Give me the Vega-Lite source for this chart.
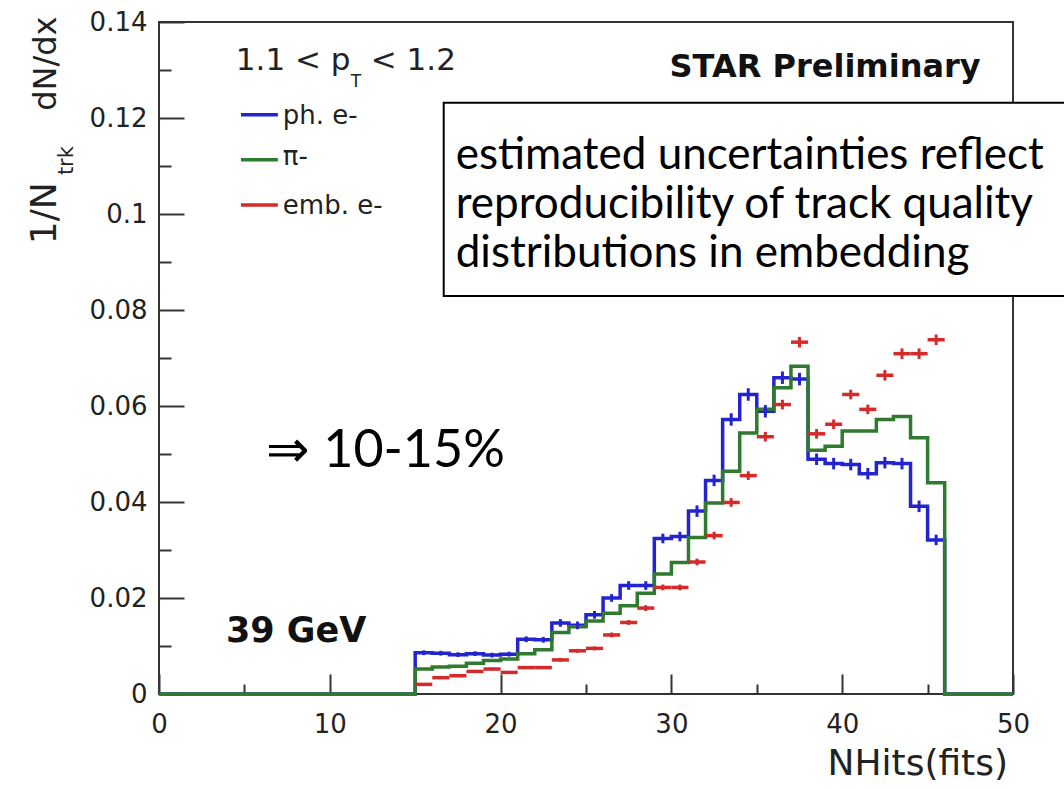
{
  "$schema": "https://vega.github.io/schema/vega-lite/v6.json",
  "width": 854,
  "height": 672,
  "autosize": {"type": "none"},
  "padding": {"left": 159, "top": 22, "right": 51, "bottom": 95},
  "background": "white",
  "config": {"view": {"stroke": "#333333", "strokeWidth": 2}},
  "datasets": {
    "hist": [
      {"s": "ph. e-", "lo": 0, "v": 0},
      {"s": "ph. e-", "lo": 15, "hi": 16, "mid": 15.5, "v": 0.0086, "e": 0.0005},
      {"s": "ph. e-", "lo": 16, "hi": 17, "mid": 16.5, "v": 0.0085, "e": 0.0005},
      {"s": "ph. e-", "lo": 17, "hi": 18, "mid": 17.5, "v": 0.0082, "e": 0.0005},
      {"s": "ph. e-", "lo": 18, "hi": 19, "mid": 18.5, "v": 0.0084, "e": 0.0005},
      {"s": "ph. e-", "lo": 19, "hi": 20, "mid": 19.5, "v": 0.0081, "e": 0.0005},
      {"s": "ph. e-", "lo": 20, "hi": 21, "mid": 20.5, "v": 0.0083, "e": 0.0005},
      {"s": "ph. e-", "lo": 21, "hi": 22, "mid": 21.5, "v": 0.0114, "e": 0.0006},
      {"s": "ph. e-", "lo": 22, "hi": 23, "mid": 22.5, "v": 0.0113, "e": 0.0006},
      {"s": "ph. e-", "lo": 23, "hi": 24, "mid": 23.5, "v": 0.0148, "e": 0.0008},
      {"s": "ph. e-", "lo": 24, "hi": 25, "mid": 24.5, "v": 0.0143, "e": 0.0008},
      {"s": "ph. e-", "lo": 25, "hi": 26, "mid": 25.5, "v": 0.0165, "e": 0.0008},
      {"s": "ph. e-", "lo": 26, "hi": 27, "mid": 26.5, "v": 0.0200, "e": 0.0008},
      {"s": "ph. e-", "lo": 27, "hi": 28, "mid": 27.5, "v": 0.0226, "e": 0.0009},
      {"s": "ph. e-", "lo": 28, "hi": 29, "mid": 28.5, "v": 0.0226, "e": 0.0009},
      {"s": "ph. e-", "lo": 29, "hi": 30, "mid": 29.5, "v": 0.0324, "e": 0.0010},
      {"s": "ph. e-", "lo": 30, "hi": 31, "mid": 30.5, "v": 0.0328, "e": 0.0010},
      {"s": "ph. e-", "lo": 31, "hi": 32, "mid": 31.5, "v": 0.0381, "e": 0.0012},
      {"s": "ph. e-", "lo": 32, "hi": 33, "mid": 32.5, "v": 0.0445, "e": 0.0012},
      {"s": "ph. e-", "lo": 33, "hi": 34, "mid": 33.5, "v": 0.0572, "e": 0.0013},
      {"s": "ph. e-", "lo": 34, "hi": 35, "mid": 34.5, "v": 0.0624, "e": 0.0013},
      {"s": "ph. e-", "lo": 35, "hi": 36, "mid": 35.5, "v": 0.0589, "e": 0.0013},
      {"s": "ph. e-", "lo": 36, "hi": 37, "mid": 36.5, "v": 0.0659, "e": 0.0013},
      {"s": "ph. e-", "lo": 37, "hi": 38, "mid": 37.5, "v": 0.0656, "e": 0.0013},
      {"s": "ph. e-", "lo": 38, "hi": 39, "mid": 38.5, "v": 0.0489, "e": 0.0012},
      {"s": "ph. e-", "lo": 39, "hi": 40, "mid": 39.5, "v": 0.0480, "e": 0.0012},
      {"s": "ph. e-", "lo": 40, "hi": 41, "mid": 40.5, "v": 0.0478, "e": 0.0012},
      {"s": "ph. e-", "lo": 41, "hi": 42, "mid": 41.5, "v": 0.0459, "e": 0.0012},
      {"s": "ph. e-", "lo": 42, "hi": 43, "mid": 42.5, "v": 0.0482, "e": 0.0012},
      {"s": "ph. e-", "lo": 43, "hi": 44, "mid": 43.5, "v": 0.0480, "e": 0.0012},
      {"s": "ph. e-", "lo": 44, "hi": 45, "mid": 44.5, "v": 0.0391, "e": 0.0012},
      {"s": "ph. e-", "lo": 45, "hi": 46, "mid": 45.5, "v": 0.0321, "e": 0.0011},
      {"s": "ph. e-", "lo": 46, "v": 0},
      {"s": "ph. e-", "lo": 50, "v": 0},
      {"s": "π-", "lo": 0, "v": 0},
      {"s": "π-", "lo": 15, "v": 0.0052},
      {"s": "π-", "lo": 16, "v": 0.0056},
      {"s": "π-", "lo": 17, "v": 0.0058},
      {"s": "π-", "lo": 18, "v": 0.0064},
      {"s": "π-", "lo": 19, "v": 0.0070},
      {"s": "π-", "lo": 20, "v": 0.0073},
      {"s": "π-", "lo": 21, "v": 0.0084},
      {"s": "π-", "lo": 22, "v": 0.0092},
      {"s": "π-", "lo": 23, "v": 0.0128},
      {"s": "π-", "lo": 24, "v": 0.0140},
      {"s": "π-", "lo": 25, "v": 0.0152},
      {"s": "π-", "lo": 26, "v": 0.0168},
      {"s": "π-", "lo": 27, "v": 0.0184},
      {"s": "π-", "lo": 28, "v": 0.0210},
      {"s": "π-", "lo": 29, "v": 0.0250},
      {"s": "π-", "lo": 30, "v": 0.0274},
      {"s": "π-", "lo": 31, "v": 0.0326},
      {"s": "π-", "lo": 32, "v": 0.0398},
      {"s": "π-", "lo": 33, "v": 0.0464},
      {"s": "π-", "lo": 34, "v": 0.0544},
      {"s": "π-", "lo": 35, "v": 0.0593},
      {"s": "π-", "lo": 36, "v": 0.0638},
      {"s": "π-", "lo": 37, "v": 0.0683},
      {"s": "π-", "lo": 38, "v": 0.0508},
      {"s": "π-", "lo": 39, "v": 0.0516},
      {"s": "π-", "lo": 40, "v": 0.0548},
      {"s": "π-", "lo": 41, "v": 0.0548},
      {"s": "π-", "lo": 42, "v": 0.0572},
      {"s": "π-", "lo": 43, "v": 0.0578},
      {"s": "π-", "lo": 44, "v": 0.0534},
      {"s": "π-", "lo": 45, "v": 0.0440},
      {"s": "π-", "lo": 46, "v": 0},
      {"s": "π-", "lo": 50, "v": 0},
      {"s": "emb. e-", "lo": 15, "hi": 16, "mid": 15.5, "v": 0.0020, "e": 0.0003},
      {"s": "emb. e-", "lo": 16, "hi": 17, "mid": 16.5, "v": 0.0034, "e": 0.0003},
      {"s": "emb. e-", "lo": 17, "hi": 18, "mid": 17.5, "v": 0.0038, "e": 0.0003},
      {"s": "emb. e-", "lo": 18, "hi": 19, "mid": 18.5, "v": 0.0047, "e": 0.0003},
      {"s": "emb. e-", "lo": 19, "hi": 20, "mid": 19.5, "v": 0.0052, "e": 0.0003},
      {"s": "emb. e-", "lo": 20, "hi": 21, "mid": 20.5, "v": 0.0045, "e": 0.0003},
      {"s": "emb. e-", "lo": 21, "hi": 22, "mid": 21.5, "v": 0.0055, "e": 0.0003},
      {"s": "emb. e-", "lo": 22, "hi": 23, "mid": 22.5, "v": 0.0055, "e": 0.0003},
      {"s": "emb. e-", "lo": 23, "hi": 24, "mid": 23.5, "v": 0.0071, "e": 0.0004},
      {"s": "emb. e-", "lo": 24, "hi": 25, "mid": 24.5, "v": 0.0090, "e": 0.0004},
      {"s": "emb. e-", "lo": 25, "hi": 26, "mid": 25.5, "v": 0.0095, "e": 0.0004},
      {"s": "emb. e-", "lo": 26, "hi": 27, "mid": 26.5, "v": 0.0123, "e": 0.0005},
      {"s": "emb. e-", "lo": 27, "hi": 28, "mid": 27.5, "v": 0.0149, "e": 0.0005},
      {"s": "emb. e-", "lo": 28, "hi": 29, "mid": 28.5, "v": 0.0179, "e": 0.0006},
      {"s": "emb. e-", "lo": 29, "hi": 30, "mid": 29.5, "v": 0.0222, "e": 0.0006},
      {"s": "emb. e-", "lo": 30, "hi": 31, "mid": 30.5, "v": 0.0222, "e": 0.0006},
      {"s": "emb. e-", "lo": 31, "hi": 32, "mid": 31.5, "v": 0.0275, "e": 0.0007},
      {"s": "emb. e-", "lo": 32, "hi": 33, "mid": 32.5, "v": 0.0330, "e": 0.0008},
      {"s": "emb. e-", "lo": 33, "hi": 34, "mid": 33.5, "v": 0.0399, "e": 0.0009},
      {"s": "emb. e-", "lo": 34, "hi": 35, "mid": 34.5, "v": 0.0455, "e": 0.0009},
      {"s": "emb. e-", "lo": 35, "hi": 36, "mid": 35.5, "v": 0.0536, "e": 0.0010},
      {"s": "emb. e-", "lo": 36, "hi": 37, "mid": 36.5, "v": 0.0603, "e": 0.0010},
      {"s": "emb. e-", "lo": 37, "hi": 38, "mid": 37.5, "v": 0.0733, "e": 0.0011},
      {"s": "emb. e-", "lo": 38, "hi": 39, "mid": 38.5, "v": 0.0542, "e": 0.0010},
      {"s": "emb. e-", "lo": 39, "hi": 40, "mid": 39.5, "v": 0.0562, "e": 0.0010},
      {"s": "emb. e-", "lo": 40, "hi": 41, "mid": 40.5, "v": 0.0624, "e": 0.0010},
      {"s": "emb. e-", "lo": 41, "hi": 42, "mid": 41.5, "v": 0.0593, "e": 0.0010},
      {"s": "emb. e-", "lo": 42, "hi": 43, "mid": 42.5, "v": 0.0664, "e": 0.0011},
      {"s": "emb. e-", "lo": 43, "hi": 44, "mid": 43.5, "v": 0.0709, "e": 0.0011},
      {"s": "emb. e-", "lo": 44, "hi": 45, "mid": 44.5, "v": 0.0709, "e": 0.0011},
      {"s": "emb. e-", "lo": 45, "hi": 46, "mid": 45.5, "v": 0.0738, "e": 0.0011}
    ]
  },
  "resolve": {"axis": {"x": "independent", "y": "independent"}},
  "layer": [
    {
      "data": {"name": "hist"},
      "transform": [{"filter": "datum.s === 'ph. e-'"}],
      "mark": {"type": "line", "interpolate": "step-after", "stroke": "#2323cf", "strokeWidth": 3.5, "clip": false},
      "encoding": {
        "x": {"field": "lo", "type": "quantitative", "scale": {"domain": [0, 50], "nice": false, "zero": false},
          "axis": {"orient": "bottom", "values": [0, 10, 20, 30, 40, 50], "format": "d", "tickSize": -20, "tickWidth": 2, "tickColor": "#333333", "domain": false, "grid": false, "labelPadding": 37, "labelFont": "DejaVu Sans", "labelFontSize": 26, "labelColor": "#222222", "labelFlush": false, "labelOverlap": false, "title": null}},
        "y": {"field": "v", "type": "quantitative", "scale": {"domain": [0, 0.14], "nice": false, "zero": false},
          "axis": {"orient": "left", "values": [0, 0.02, 0.04, 0.06, 0.08, 0.1, 0.12, 0.14], "format": "~g", "tickSize": -25, "tickWidth": 2, "tickColor": "#333333", "domain": false, "grid": false, "labelPadding": 37, "labelFont": "DejaVu Sans", "labelFontSize": 26, "labelColor": "#222222", "labelFlush": false, "labelOverlap": false, "title": null}}
      }
    },
    {
      "data": {"name": "hist"},
      "transform": [{"filter": "datum.s === 'π-'"}],
      "mark": {"type": "line", "interpolate": "step-after", "stroke": "#2f7a2f", "strokeWidth": 3.5, "clip": false},
      "encoding": {
        "x": {"field": "lo", "type": "quantitative", "scale": {"domain": [0, 50], "nice": false, "zero": false},
          "axis": {"orient": "bottom", "values": [5, 15, 25, 35, 45], "tickSize": -10, "tickWidth": 2, "tickColor": "#333333", "domain": false, "grid": false, "labels": false, "title": null}},
        "y": {"field": "v", "type": "quantitative", "scale": {"domain": [0, 0.14], "nice": false, "zero": false},
          "axis": {"orient": "left", "values": [0.01, 0.03, 0.05, 0.07, 0.09, 0.11, 0.13], "tickSize": -12, "tickWidth": 2, "tickColor": "#333333", "domain": false, "grid": false, "labels": false, "title": null}}
      }
    },
    {
      "data": {"name": "hist"},
      "transform": [{"filter": "datum.s === 'ph. e-' && datum.e > 0"}],
      "mark": {"type": "errorbar", "ticks": false, "color": "#2323cf", "rule": {"strokeWidth": 3}, "clip": false},
      "encoding": {
        "x": {"field": "mid", "type": "quantitative", "axis": null},
        "y": {"field": "v", "type": "quantitative", "axis": null},
        "yError": {"field": "e"}
      }
    },
    {
      "data": {"name": "hist"},
      "transform": [{"filter": "datum.s === 'emb. e-'"}],
      "mark": {"type": "rule", "color": "#d42a2a", "strokeWidth": 3.5, "clip": false},
      "encoding": {
        "x": {"field": "lo", "type": "quantitative", "axis": null},
        "x2": {"field": "hi"},
        "y": {"field": "v", "type": "quantitative", "axis": null}
      }
    },
    {
      "data": {"name": "hist"},
      "transform": [{"filter": "datum.s === 'emb. e-'"}],
      "mark": {"type": "errorbar", "ticks": false, "color": "#d42a2a", "rule": {"strokeWidth": 3}, "clip": false},
      "encoding": {
        "x": {"field": "mid", "type": "quantitative", "axis": null},
        "y": {"field": "v", "type": "quantitative", "axis": null},
        "yError": {"field": "e"}
      }
    },
    {
      "data": {"values": [{}]},
      "mark": {"type": "rect", "fill": "white", "stroke": "black", "strokeWidth": 2, "clip": false},
      "encoding": {
        "x": {"datum": 16.67, "type": "quantitative", "axis": null},
        "x2": {"datum": 53.3},
        "y": {"datum": 0.1232, "type": "quantitative", "axis": null},
        "y2": {"datum": 0.0829}
      }
    },
    {
      "data": {"values": [{}]},
      "mark": {"type": "text", "text": ["estimated uncertainties reflect", "reproducibility of track quality", "distributions in embedding"], "lineHeight": 49, "font": "Lato", "fontSize": 44, "align": "left", "baseline": "alphabetic", "color": "black", "clip": false},
      "encoding": {
        "x": {"datum": 17.37, "type": "quantitative", "axis": null},
        "y": {"datum": 0.1094, "type": "quantitative", "axis": null}
      }
    },
    {
      "data": {"values": [{}]},
      "mark": {"type": "text", "text": "STAR Preliminary", "font": "DejaVu Sans", "fontWeight": "bold", "fontSize": 32, "align": "center", "baseline": "alphabetic", "color": "#111111", "clip": false},
      "encoding": {
        "x": {"datum": 39.0, "type": "quantitative", "axis": null},
        "y": {"datum": 0.1286, "type": "quantitative", "axis": null}
      }
    },
    {
      "data": {"values": [{}]},
      "mark": {"type": "text", "text": "1.1 < p", "font": "DejaVu Sans", "fontSize": 31, "align": "left", "baseline": "alphabetic", "color": "#222222", "clip": false},
      "encoding": {
        "x": {"datum": 4.5, "type": "quantitative", "axis": null},
        "y": {"datum": 0.1299, "type": "quantitative", "axis": null}
      }
    },
    {
      "data": {"values": [{}]},
      "mark": {"type": "text", "text": "T", "font": "DejaVu Sans", "fontSize": 17, "align": "left", "baseline": "alphabetic", "color": "#222222", "clip": false},
      "encoding": {
        "x": {"datum": 11.23, "type": "quantitative", "axis": null},
        "y": {"datum": 0.1265, "type": "quantitative", "axis": null}
      }
    },
    {
      "data": {"values": [{}]},
      "mark": {"type": "text", "text": "< 1.2", "font": "DejaVu Sans", "fontSize": 31, "align": "left", "baseline": "alphabetic", "color": "#222222", "clip": false},
      "encoding": {
        "x": {"datum": 12.4, "type": "quantitative", "axis": null},
        "y": {"datum": 0.1299, "type": "quantitative", "axis": null}
      }
    },
    {
      "data": {"values": [{}]},
      "mark": {"type": "rule", "color": "#2323cf", "strokeWidth": 3.5, "clip": false},
      "encoding": {
        "x": {"datum": 4.8, "type": "quantitative", "axis": null},
        "x2": {"datum": 6.96},
        "y": {"datum": 0.1207, "type": "quantitative", "axis": null}
      }
    },
    {
      "data": {"values": [{}]},
      "mark": {"type": "rule", "color": "#2f7a2f", "strokeWidth": 3.5, "clip": false},
      "encoding": {
        "x": {"datum": 4.8, "type": "quantitative", "axis": null},
        "x2": {"datum": 6.96},
        "y": {"datum": 0.1113, "type": "quantitative", "axis": null}
      }
    },
    {
      "data": {"values": [{}]},
      "mark": {"type": "rule", "color": "#d42a2a", "strokeWidth": 3.5, "clip": false},
      "encoding": {
        "x": {"datum": 4.8, "type": "quantitative", "axis": null},
        "x2": {"datum": 6.96},
        "y": {"datum": 0.1019, "type": "quantitative", "axis": null}
      }
    },
    {
      "data": {"values": [{}]},
      "mark": {"type": "text", "text": "ph. e-", "font": "DejaVu Sans", "fontSize": 26, "align": "left", "baseline": "alphabetic", "color": "#222222", "clip": false},
      "encoding": {
        "x": {"datum": 7.25, "type": "quantitative", "axis": null},
        "y": {"datum": 0.1188, "type": "quantitative", "axis": null}
      }
    },
    {
      "data": {"values": [{}]},
      "mark": {"type": "text", "text": "π-", "font": "DejaVu Sans", "fontSize": 26, "align": "left", "baseline": "alphabetic", "color": "#222222", "clip": false},
      "encoding": {
        "x": {"datum": 7.25, "type": "quantitative", "axis": null},
        "y": {"datum": 0.1102, "type": "quantitative", "axis": null}
      }
    },
    {
      "data": {"values": [{}]},
      "mark": {"type": "text", "text": "emb. e-", "font": "DejaVu Sans", "fontSize": 26, "align": "left", "baseline": "alphabetic", "color": "#222222", "clip": false},
      "encoding": {
        "x": {"datum": 7.25, "type": "quantitative", "axis": null},
        "y": {"datum": 0.1, "type": "quantitative", "axis": null}
      }
    },
    {
      "data": {"values": [{}]},
      "mark": {"type": "text", "text": "⇒ 10-15%", "font": "Lato", "fontSize": 52, "align": "left", "baseline": "alphabetic", "color": "black", "clip": false},
      "encoding": {
        "x": {"datum": 6.26, "type": "quantitative", "axis": null},
        "y": {"datum": 0.0472, "type": "quantitative", "axis": null}
      }
    },
    {
      "data": {"values": [{}]},
      "mark": {"type": "text", "text": "39 GeV", "font": "DejaVu Sans", "fontWeight": "bold", "fontSize": 35, "align": "left", "baseline": "alphabetic", "color": "#111111", "clip": false},
      "encoding": {
        "x": {"datum": 3.92, "type": "quantitative", "axis": null},
        "y": {"datum": 0.01086, "type": "quantitative", "axis": null}
      }
    },
    {
      "data": {"values": [{}]},
      "mark": {"type": "text", "text": "1/N", "angle": 270, "font": "DejaVu Sans", "fontSize": 36, "align": "left", "baseline": "alphabetic", "color": "#222222", "clip": false},
      "encoding": {
        "x": {"datum": -6.02, "type": "quantitative", "axis": null},
        "y": {"datum": 0.0937, "type": "quantitative", "axis": null}
      }
    },
    {
      "data": {"values": [{}]},
      "mark": {"type": "text", "text": "trk", "angle": 270, "font": "DejaVu Sans", "fontSize": 21, "align": "left", "baseline": "alphabetic", "color": "#222222", "clip": false},
      "encoding": {
        "x": {"datum": -5.03, "type": "quantitative", "axis": null},
        "y": {"datum": 0.1081, "type": "quantitative", "axis": null}
      }
    },
    {
      "data": {"values": [{}]},
      "mark": {"type": "text", "text": "dN/dx", "angle": 270, "font": "DejaVu Sans", "fontSize": 32, "align": "left", "baseline": "alphabetic", "color": "#222222", "clip": false},
      "encoding": {
        "x": {"datum": -6.02, "type": "quantitative", "axis": null},
        "y": {"datum": 0.1215, "type": "quantitative", "axis": null}
      }
    },
    {
      "data": {"values": [{}]},
      "mark": {"type": "text", "text": "NHits(fits)", "font": "DejaVu Sans", "fontSize": 36, "align": "right", "baseline": "alphabetic", "color": "#222222", "clip": false},
      "encoding": {
        "x": {"datum": 49.71, "type": "quantitative", "axis": null},
        "y": {"datum": -0.0169, "type": "quantitative", "axis": null}
      }
    }
  ]
}
